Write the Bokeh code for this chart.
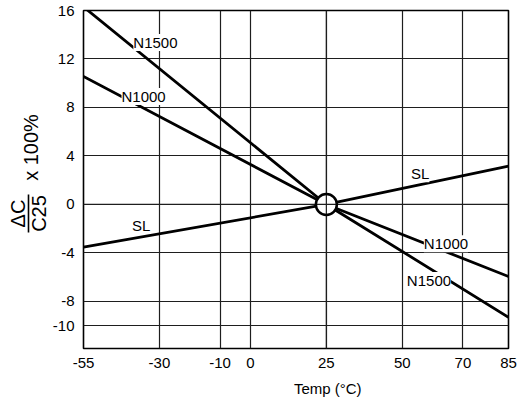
import math
from bokeh.plotting import figure
from bokeh.layouts import row, column
from bokeh.models import FixedTicker, Label, Span, Arrow
from bokeh.embed import file_html
from bokeh.resources import INLINE

# ---- data ----
x_ticks = [-55, -30, -10, 0, 25, 50, 70, 85]
y_ticks = [-10, -8, -4, 0, 4, 8, 12, 16]

temp = [-55, 25, 85]
n1500 = [16.3, 0, -9.3]
n1000 = [10.56, 0, -5.94]
sl = [-3.52, 0, 3.16]

ref_temp = [25]
ref_val = [0]

label_text = ["N1500", "N1000", "SL", "SL", "N1000", "N1500"]
label_x = [-31.3, -35.2, -36.0, 55.9, 64.4, 58.8]
label_y = [13.36, 8.91, -1.73, 2.53, -3.24, -6.27]

FONT = "Liberation Sans"
GRID = "#1e1e1e"


def blank(fig):
    fig.axis.visible = False
    fig.grid.visible = False
    fig.outline_line_color = None
    fig.background_fill_color = "white"
    fig.border_fill_color = "white"
    return fig


# ---- left strip with the y axis title ----
left = blank(figure(width=49, height=398, x_range=(0, 49), y_range=(0, 398),
                    output_backend="svg", toolbar_location=None,
                    min_border=0))
left.add_layout(Label(x=17, y=185, text="ΔC", text_font=FONT,
                      text_font_size="20px", text_color="black",
                      angle=math.pi / 2, text_align="center",
                      text_baseline="middle"))
left.add_layout(Label(x=38, y=185, text="C25", text_font=FONT,
                      text_font_size="20px", text_color="black",
                      angle=math.pi / 2, text_align="center",
                      text_baseline="middle"))
left.add_layout(Arrow(x_start=28, y_start=204, x_end=28, y_end=166,
                      end=None, line_color="black", line_width=1.6))
left.add_layout(Label(x=30.5, y=251, text="x 100%", text_font=FONT,
                      text_font_size="20px", text_color="black",
                      angle=math.pi / 2, text_align="center",
                      text_baseline="middle"))

# ---- main chart ----
p = figure(width=468, height=375, x_range=(-55, 85), y_range=(-11.88, 16),
           output_backend="svg", toolbar_location=None,
           min_border_left=31, min_border_right=9, min_border_top=10,
           min_border_bottom=27)
p.background_fill_color = "white"
p.border_fill_color = "white"
p.outline_line_color = "black"
p.outline_line_width = 1.6

for ax, ticks in ((p.xaxis, x_ticks), (p.yaxis, y_ticks)):
    ax.ticker = FixedTicker(ticks=ticks)
    ax.major_label_overrides = {t: str(t) for t in ticks}
    ax.axis_line_color = None
    ax.major_tick_line_color = None
    ax.minor_tick_line_color = None
    ax.major_tick_in = 0
    ax.major_tick_out = 0
    ax.major_label_text_font = FONT
    ax.major_label_text_font_size = "15px"
    ax.major_label_text_color = "black"
    ax.major_label_standoff = 9

p.xgrid.ticker = FixedTicker(ticks=x_ticks)
p.ygrid.ticker = FixedTicker(ticks=y_ticks)
for g in (p.xgrid, p.ygrid):
    g.grid_line_color = GRID
    g.grid_line_width = 1.2
    g.grid_line_alpha = 1.0

for series in (n1500, n1000, sl):
    p.line(temp, series, line_color="black", line_width=2.8)

# white disc hides the line ends inside the reference circle
p.scatter(ref_temp, ref_val, marker="circle", size=22, fill_color="white",
          line_color=None)
p.add_layout(Span(location=ref_temp[0], dimension="height", line_color=GRID,
                  line_width=1.2))
p.add_layout(Span(location=ref_val[0], dimension="width", line_color=GRID,
                  line_width=1.2))
p.scatter(ref_temp, ref_val, marker="circle", size=21, fill_color=None,
          line_color="black", line_width=2.5, level="overlay")

for t, lx, ly in zip(label_text, label_x, label_y):
    p.add_layout(Label(x=lx, y=ly, text=t, text_font=FONT,
                       text_font_size="15px", text_color="black",
                       text_align="center", text_baseline="middle",
                       background_fill_color="white",
                       background_fill_alpha=1.0, level="overlay"))

# ---- bottom strip with the x axis title ----
bottom = blank(figure(width=468, height=23, x_range=(0, 468), y_range=(0, 23),
                      output_backend="svg", toolbar_location=None,
                      min_border=0))
bottom.add_layout(Label(x=269, y=10, text="Temp (°C)", text_font=FONT,
                        text_font_size="15px", text_color="black",
                        text_align="center", text_baseline="middle"))

layout = row(left, column(p, bottom, spacing=0), spacing=0)
open("out.html", "w").write(file_html(layout, INLINE))
